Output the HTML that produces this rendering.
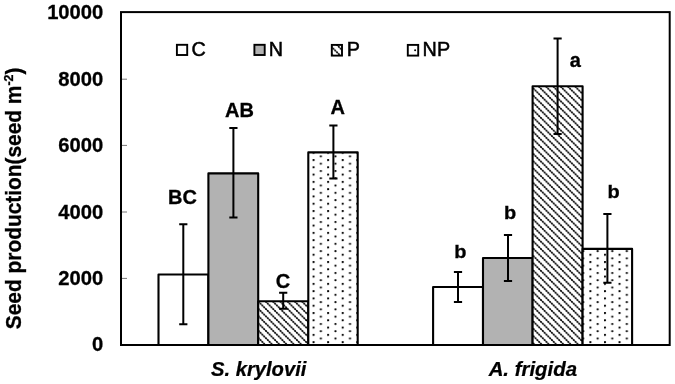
<!DOCTYPE html>
<html>
<head>
<meta charset="utf-8">
<title>Seed production</title>
<style>
html,body{margin:0;padding:0;background:#fff;}
body{width:675px;height:384px;overflow:hidden;}
svg{display:block;will-change:transform;}
text{font-family:"Liberation Sans",Arial,Helvetica,sans-serif;fill:#000;}
.b{font-weight:bold;stroke:#000;stroke-width:0.3px;}
.bi{font-weight:bold;font-style:italic;stroke:#000;stroke-width:0.25px;}
</style>
</head>
<body>
<svg width="675" height="384" viewBox="0 0 675 384">
<defs>
<pattern id="hatch" patternUnits="userSpaceOnUse" x="-0.82" y="5.88" width="7.285" height="7.285">
<rect width="7.285" height="7.285" fill="#fff"/>
<path d="M-2,-2 L9.285,9.285 M-2,-9.285 L9.285,2 M-2,5.285 L9.285,16.57" stroke="#000" stroke-width="0.95"/>
<circle cx="0.91" cy="0.91" r="0.85"/><circle cx="2.73" cy="2.73" r="0.85"/><circle cx="4.55" cy="4.55" r="0.85"/><circle cx="6.37" cy="6.37" r="0.85"/>
</pattern>
<pattern id="dots" patternUnits="userSpaceOnUse" x="312.58" y="159.02" width="14.57" height="7.285">
<rect width="14.57" height="7.285" fill="#fff"/>
<circle cx="1" cy="1" r="1.1" fill="#000"/>
<circle cx="8.285" cy="4.64" r="1.1" fill="#000"/>
</pattern>
</defs>
<rect width="675" height="384" fill="#fff"/>

<!-- bars -->
<g stroke="#000" stroke-width="2.1" stroke-linejoin="round">
<rect x="158.5" y="274.5" width="49.9" height="70.5" fill="#fff"/>
<rect x="208.4" y="173.4" width="49.8" height="171.6" fill="#b2b2b2"/>
<rect x="258.2" y="301.3" width="50.1" height="43.7" fill="url(#hatch)"/>
<rect x="308.3" y="152.4" width="49.4" height="192.6" fill="url(#dots)"/>
<rect x="433.1" y="287.0" width="49.9" height="58.0" fill="#fff"/>
<rect x="483" y="258.0" width="49.6" height="87.0" fill="#b2b2b2"/>
<rect x="532.6" y="86.3" width="50" height="258.7" fill="url(#hatch)"/>
<rect x="582.6" y="248.9" width="49.5" height="96.1" fill="url(#dots)"/>
</g>
<!-- axis ticks -->
<g stroke="#777" stroke-width="1">
<line x1="121" y1="79.2" x2="127" y2="79.2"/>
<line x1="121" y1="145.4" x2="127" y2="145.4"/>
<line x1="121" y1="212.0" x2="127" y2="212.0"/>
<line x1="121" y1="278.4" x2="127" y2="278.4"/>
</g>
<!-- plot frame -->
<rect x="121" y="12.1" width="548.7" height="332.9" fill="none" stroke="#000" stroke-width="2"/>
<!-- error bars -->
<g stroke="#000" stroke-width="2" fill="none">
<path d="M183.3,224.2 V324.3 M179.20,224.2 h8.2 M179.20,324.3 h8.2"/>
<path d="M233.4,128 V217.5 M229.30,128 h8.2 M229.30,217.5 h8.2"/>
<path d="M283.2,292.8 V308.8 M279.10,292.8 h8.2 M279.10,308.8 h8.2"/>
<path d="M333.4,125.4 V178.4 M329.30,125.4 h8.2 M329.30,178.4 h8.2"/>
<path d="M458,272 V302 M453.90,272 h8.2 M453.90,302 h8.2"/>
<path d="M508,235 V281 M503.90,235 h8.2 M503.90,281 h8.2"/>
<path d="M557.6,38.6 V134 M553.50,38.6 h8.2 M553.50,134 h8.2"/>
<path d="M607.4,214 V282.8 M603.30,214 h8.2 M603.30,282.8 h8.2"/>
</g>
<!-- y tick labels -->
<text class="b" font-size="20.2" text-anchor="end" transform="translate(103.3,18.7) scale(1.0,1.03)">10000</text>
<text class="b" font-size="20.2" text-anchor="end" transform="translate(103.3,85.6) scale(1.0,1.03)">8000</text>
<text class="b" font-size="20.2" text-anchor="end" transform="translate(103.3,152.1) scale(1.0,1.03)">6000</text>
<text class="b" font-size="20.2" text-anchor="end" transform="translate(103.3,218.6) scale(1.0,1.03)">4000</text>
<text class="b" font-size="20.2" text-anchor="end" transform="translate(103.3,284.8) scale(1.0,1.03)">2000</text>
<text class="b" font-size="20.2" text-anchor="end" transform="translate(103.3,351.3) scale(1.0,1.03)">0</text>
<!-- y axis title -->
<text class="b" font-size="20.9" transform="translate(20.5,329.2) rotate(-90) scale(1,1.06)">Seed production(seed m<tspan font-size="12.5" dy="-7.5">-2</tspan><tspan dy="7.5">)</tspan></text>
<!-- legend -->
<g stroke="#000" stroke-width="1.9">
<rect x="176.9" y="44.8" width="10.3" height="10.2" fill="#fff"/>
<rect x="254.4" y="44.8" width="10.3" height="10.2" fill="#b2b2b2"/>
<rect x="331.8" y="44.9" width="10.2" height="10.7" fill="url(#hatch)"/>
<rect x="407.8" y="44.9" width="10.4" height="10.7" fill="#fff"/>
</g>
<circle cx="415.1" cy="50.2" r="1" fill="#000"/>
<g stroke="#000" stroke-width="0.5">
<text font-size="19.8" text-anchor="start" transform="translate(191.6,56.2) scale(1,1)">C</text>
<text font-size="19.8" text-anchor="start" transform="translate(268.7,56.2) scale(1,1)">N</text>
<text font-size="19.8" text-anchor="start" transform="translate(346.7,56.2) scale(1,1)">P</text>
<text font-size="19.8" text-anchor="start" transform="translate(422.6,56.2) scale(1,1)">NP</text>
</g>
<!-- significance letters -->
<text class="b" font-size="20.0" text-anchor="middle" transform="translate(182.5,203.8) scale(1.0,1.03)">BC</text>
<text class="b" font-size="20.0" text-anchor="middle" transform="translate(239.4,117.2) scale(1.0,1.03)">AB</text>
<text class="b" font-size="20.0" text-anchor="middle" transform="translate(283.0,288.4) scale(1.0,1.03)">C</text>
<text class="b" font-size="20.0" text-anchor="middle" transform="translate(337.7,114.4) scale(1.0,1.03)">A</text>
<text class="b" font-size="20.0" text-anchor="middle" transform="translate(460.3,258.2) scale(1.0,0.93)">b</text>
<text class="b" font-size="20.0" text-anchor="middle" transform="translate(510.0,219.2) scale(1.0,0.93)">b</text>
<text class="b" font-size="20.0" text-anchor="middle" transform="translate(575.4,67.4) scale(1.0,0.97)">a</text>
<text class="b" font-size="20.0" text-anchor="middle" transform="translate(613.6,198.0) scale(1.0,0.93)">b</text>
<!-- x labels -->
<text class="bi" font-size="20.2" text-anchor="middle" transform="translate(258.7,375.6) scale(1.0,0.99)">S. krylovii</text>
<text class="bi" font-size="20.4" text-anchor="middle" transform="translate(532.8,375.6) scale(1.0,0.99)">A. frigida</text>
</svg>
</body>
</html>
